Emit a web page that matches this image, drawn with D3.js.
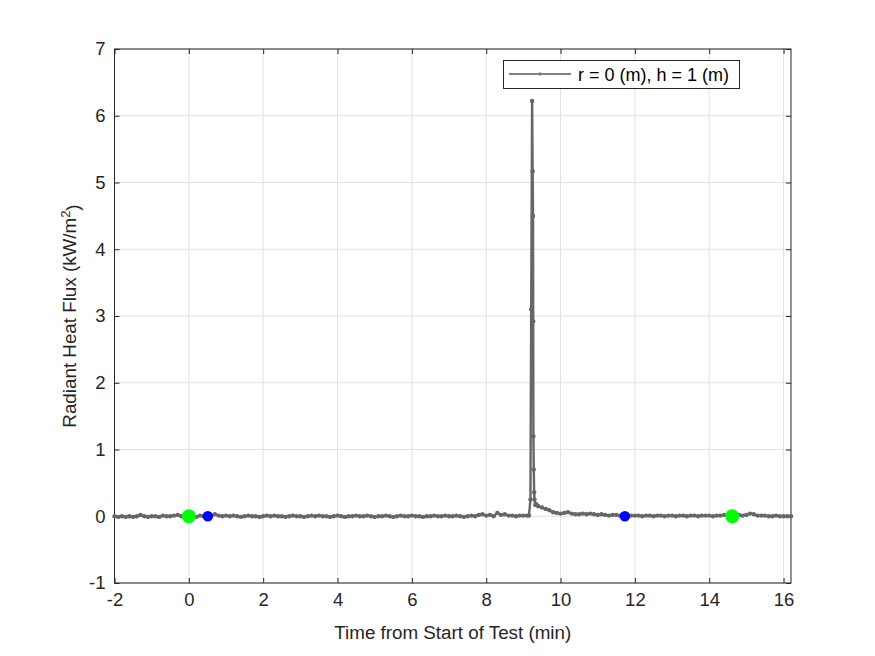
<!DOCTYPE html>
<html><head><meta charset="utf-8">
<script src="https://cdn.jsdelivr.net/npm/d3@7"></script>
<style>body{margin:0;background:#fff}svg{display:block}text{font-family:"Liberation Sans",Arial,sans-serif}</style>
</head><body><svg id="c" width="875" height="656"></svg>
<script>
// ---- data ----
const time = [
 -2.0,-1.9,-1.8,-1.7,-1.6,-1.5,-1.4,-1.3,-1.2,-1.1,
 -1.0,-0.9,-0.8,-0.7,-0.6,-0.5,-0.4,-0.3,-0.2,-0.1,
 0.0,0.1,0.2,0.3,0.4,0.5,0.6,0.7,0.8,0.9,
 1.0,1.1,1.2,1.3,1.4,1.5,1.6,1.7,1.8,1.9,
 2.0,2.1,2.2,2.3,2.4,2.5,2.6,2.7,2.8,2.9,
 3.0,3.1,3.2,3.3,3.4,3.5,3.6,3.7,3.8,3.9,
 4.0,4.1,4.2,4.3,4.4,4.5,4.6,4.7,4.8,4.9,
 5.0,5.1,5.2,5.3,5.4,5.5,5.6,5.7,5.8,5.9,
 6.0,6.1,6.2,6.3,6.4,6.5,6.6,6.7,6.8,6.9,
 7.0,7.1,7.2,7.3,7.4,7.5,7.6,7.7,7.8,7.9,
 8.0,8.1,8.2,8.3,8.4,8.5,8.6,8.7,8.8,8.9,
 9.0,9.1,
 9.15,9.19,9.21,9.235,9.25,9.26,9.265,9.27,9.28,9.29,9.30,9.32,9.35,
 9.4,9.5,9.6,9.7,9.8,9.9,
 10.0,10.1,10.2,10.3,10.4,10.5,10.6,10.7,10.8,10.9,
 11.0,11.1,11.2,11.3,11.4,11.5,11.6,11.7,11.8,11.9,
 12.0,12.1,12.2,12.3,12.4,12.5,12.6,12.7,12.8,12.9,
 13.0,13.1,13.2,13.3,13.4,13.5,13.6,13.7,13.8,13.9,
 14.0,14.1,14.2,14.3,14.4,14.5,14.6,14.7,14.8,14.9,
 15.0,15.1,15.2,15.3,15.4,15.5,15.6,15.7,15.8,15.9,
 16.0,16.1,16.2
];
const flux = [
 0.00,-0.01,0.00,-0.01,0.00,-0.01,0.00,0.02,0.00,-0.01,
 0.00,0.00,-0.01,0.01,0.00,0.00,0.01,0.02,0.00,0.01,
 0.00,0.00,-0.01,0.01,0.00,0.00,0.01,0.03,0.01,0.00,
 0.01,0.00,0.01,0.00,-0.01,0.00,0.01,0.00,0.00,-0.01,
 0.00,0.01,0.00,0.01,0.00,0.00,-0.01,0.00,0.01,0.00,
 0.00,-0.01,0.00,0.01,0.00,0.01,0.00,0.00,-0.01,0.00,
 0.01,0.00,-0.01,0.00,0.00,0.01,0.00,0.00,0.01,0.00,
 -0.01,0.00,0.00,0.01,0.00,-0.01,0.00,0.01,0.00,0.00,
 0.01,0.00,0.00,-0.01,0.00,0.00,0.01,0.00,0.00,0.01,
 0.00,0.00,0.01,0.00,-0.01,0.00,0.01,0.00,0.02,0.03,
 0.01,0.02,0.00,0.05,0.02,0.03,0.01,0.01,0.00,0.01,
 0.01,0.01,
 0.01,0.25,3.10,6.22,5.17,4.50,2.92,1.20,0.70,0.36,0.25,0.17,0.18,
 0.15,0.13,0.11,0.09,0.06,0.05,
 0.04,0.05,0.06,0.04,0.03,0.03,0.04,0.03,0.04,0.03,
 0.02,0.03,0.02,0.01,0.02,0.02,0.01,0.01,0.01,0.01,
 0.01,0.01,0.00,0.01,0.01,0.00,0.01,0.01,0.00,0.01,
 0.01,0.00,0.01,0.01,0.00,0.01,0.01,0.00,0.01,0.01,
 0.01,0.00,0.01,0.01,0.02,0.01,0.01,0.02,0.02,0.01,
 0.02,0.04,0.03,0.01,0.01,0.01,0.00,0.00,0.01,0.00,
 0.00,0.00,0.00
];
const greenMarks = [[0.0, 0.0],[14.62, 0.0]];
const blueMarks = [[0.51, 0.0],[11.73, 0.0]];
const xTicks = [-2,0,2,4,6,8,10,12,14,16];
const yTicks = [-1,0,1,2,3,4,5,6,7];
const seriesLabel = "r = 0 (m), h = 1 (m)";

// ---- layout ----
const svg = d3.select("#c");
const L=114.5, R=791, T=49, B=583;
const x = d3.scaleLinear().domain([-2,16.2]).range([L,R]);
const y = d3.scaleLinear().domain([-1,7]).range([B,T]);
const axisCol = "#262626";

// grid
const g = svg.append("g");
g.selectAll(".gx").data(xTicks).join("line")
 .attr("x1",d=>x(d)).attr("x2",d=>x(d)).attr("y1",T).attr("y2",B)
 .attr("stroke","#e2e2e2").attr("stroke-width",1);
g.selectAll(".gy").data(yTicks).join("line")
 .attr("y1",d=>y(d)).attr("y2",d=>y(d)).attr("x1",L).attr("x2",R)
 .attr("stroke","#e2e2e2").attr("stroke-width",1);

// axes
const fmt = d=> d<0 ? "-"+Math.abs(d) : String(d);
const ax = svg.append("g").attr("transform",`translate(0,${B})`)
 .call(d3.axisBottom(x).tickValues(xTicks).tickSizeInner(-5).tickSizeOuter(0).tickPadding(10).tickFormat(fmt));
const axT = svg.append("g").attr("transform",`translate(0,${T})`)
 .call(d3.axisTop(x).tickValues(xTicks).tickSizeInner(-5).tickSizeOuter(0).tickFormat(""));
const ay = svg.append("g").attr("transform",`translate(${L},0)`)
 .call(d3.axisLeft(y).tickValues(yTicks).tickSizeInner(-5).tickSizeOuter(0).tickPadding(9).tickFormat(fmt));
const ayR = svg.append("g").attr("transform",`translate(${R},0)`)
 .call(d3.axisRight(y).tickValues(yTicks).tickSizeInner(-5).tickSizeOuter(0).tickFormat(""));
[ax,axT,ay,ayR].forEach(a=>{
  a.selectAll("path").remove();
  a.selectAll("line").attr("stroke",axisCol);
  a.selectAll("text").attr("fill",axisCol).style("font-size","18.5px");
});
ax.selectAll("text").attr("dy","0.71em");
// box
svg.append("rect").attr("x",L).attr("y",T).attr("width",R-L).attr("height",B-T)
 .attr("fill","none").attr("stroke",axisCol).attr("stroke-width",1);

// series
const pts = time.map((t,i)=>[t,flux[i]]);
const line = d3.line().x(d=>x(d[0])).y(d=>y(d[1]));
const col = "#666666";
svg.append("path").datum(pts).attr("d",line).attr("fill","none")
 .attr("stroke",col).attr("stroke-width",2.4).attr("stroke-linejoin","round");
svg.append("g").selectAll("circle").data(pts).join("circle")
 .attr("cx",d=>x(d[0])).attr("cy",d=>y(d[1])).attr("r",2.2).attr("fill",col);

// markers
svg.append("g").selectAll("circle").data(greenMarks).join("circle")
 .attr("cx",d=>x(d[0])).attr("cy",d=>y(d[1])).attr("r",7).attr("fill","#00ff00");
svg.append("g").selectAll("circle").data(blueMarks).join("circle")
 .attr("cx",d=>x(d[0])).attr("cy",d=>y(d[1])).attr("r",5.3).attr("fill","#0000ff");

// legend
const lg = svg.append("g");
lg.append("rect").attr("x",503.5).attr("y",60.5).attr("width",236).attr("height",28)
 .attr("fill","#fff").attr("stroke",axisCol).attr("stroke-width",1);
lg.append("line").attr("x1",509).attr("x2",571).attr("y1",74).attr("y2",74)
 .attr("stroke","#808080").attr("stroke-width",2);
lg.append("circle").attr("cx",540).attr("cy",74).attr("r",1.8).attr("fill","#808080");
lg.append("text").attr("x",578).attr("y",81).text(seriesLabel)
 .attr("fill","#000").style("font-size","18px");

// axis labels
svg.append("text").attr("x",(L+R)/2).attr("y",639).attr("text-anchor","middle")
 .attr("fill",axisCol).style("font-size","18.8px").text("Time from Start of Test (min)");
const yl = svg.append("text").attr("transform",`translate(76,${(T+B)/2}) rotate(-90)`)
 .attr("text-anchor","middle").attr("fill",axisCol).style("font-size","18.8px");
yl.append("tspan").text("Radiant Heat Flux (kW/m");
yl.append("tspan").attr("dy","-0.45em").style("font-size","13px").text("2");
yl.append("tspan").attr("dy","0.45em").text(")");
</script></body></html>
